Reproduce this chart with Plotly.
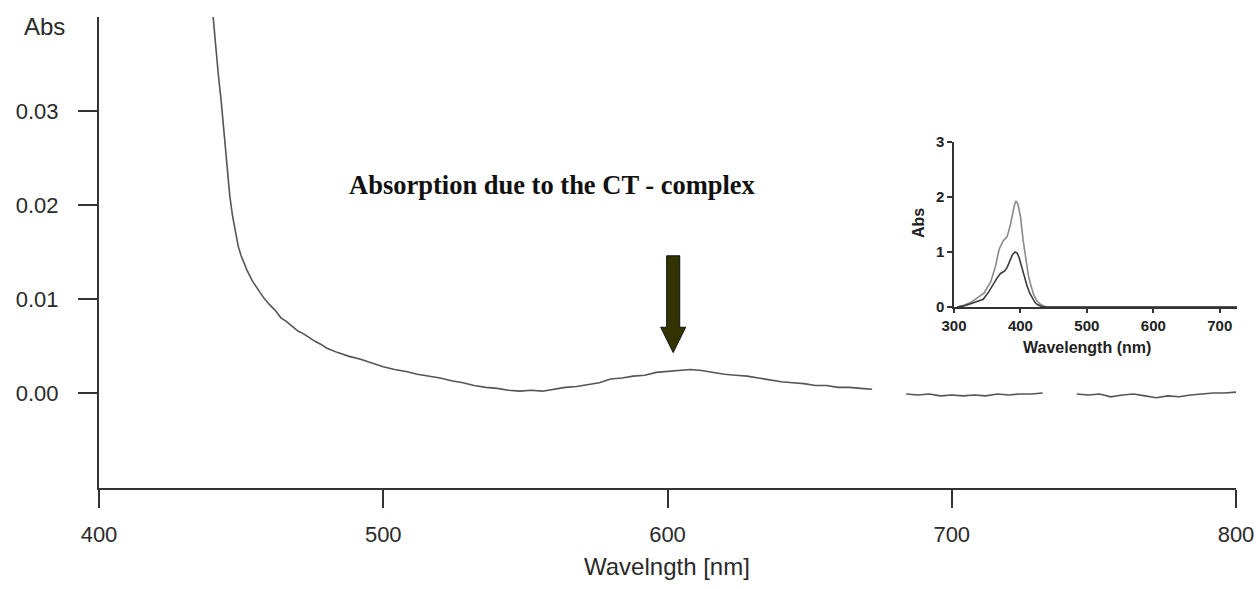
import plotly.graph_objects as go

# ---------------- main spectrum ----------------
wl = [440, 441, 442, 443, 444, 445, 446, 447, 448, 449, 450, 452, 454, 456, 458,
      460, 462, 464, 466, 468, 470, 472, 474, 476, 478, 480,
      484, 488, 492, 496, 500, 504, 508, 512, 516, 520, 524, 528, 532, 536,
      540, 544, 548, 552, 556, 560, 564, 568, 572, 576, 580, 584, 588, 592,
      596, 600, 604, 608, 612, 616, 620, 624, 628, 632, 636, 640, 644, 648,
      652, 656, 660, 664, 668, 672, 676, 680, 684, 688, 692, 696, 700, 704,
      708, 712, 716, 720, 724, 728, 732, 736, 740, 744, 748, 752, 756, 760,
      764, 768, 772, 776, 780, 784, 788, 792, 796, 800]
absorb = [0.0405, 0.0368, 0.0338, 0.0310, 0.0278, 0.0243, 0.0210, 0.0188, 0.0170, 0.0156,
          0.0146, 0.0131, 0.0119, 0.0110, 0.0101, 0.0094, 0.0088, 0.0080, 0.0076, 0.0071,
          0.0066, 0.0063, 0.0059, 0.0055, 0.0052, 0.0048,
          0.0043, 0.0039, 0.0036, 0.0032, 0.0028, 0.0025, 0.0023, 0.0020, 0.0018, 0.0016,
          0.0013, 0.0011, 0.0008, 0.0006, 0.0005, 0.0003, 0.0002, 0.0003, 0.0002, 0.0004,
          0.0006, 0.0007, 0.0009, 0.0011, 0.0015, 0.0016, 0.0018, 0.0019, 0.0022, 0.0023,
          0.0024, 0.0025, 0.0024, 0.0022, 0.0020, 0.0019, 0.0018, 0.0016, 0.0014, 0.0012,
          0.0011, 0.0010, 0.0008, 0.0008, 0.0006, 0.0006, 0.0005, 0.0004, None, None,
          -0.0001, -0.0002, -0.0001, -0.0003, -0.0002, -0.0003, -0.0002, -0.0003, -0.0001,
          -0.0002, -0.0001, -0.0001, 0.0000, None, None, -0.0001, -0.0002, -0.0001, -0.0004,
          -0.0002, -0.0001, -0.0003, -0.0005, -0.0003, -0.0004, -0.0002, -0.0001, 0.0000,
          0.0000, 0.0001]

main_xticks = [400, 500, 600, 700, 800]
main_yticks = [0.00, 0.01, 0.02, 0.03]
main_yticktext = ["0.00", "0.01", "0.02", "0.03"]

# ---------------- inset spectra ----------------
inset_x1 = [305, 315, 325, 335, 345, 355, 362, 368, 374, 380, 385, 390, 393, 396, 400,
            404, 408, 412, 416, 420, 425, 430, 435, 440, 726]
inset_y1 = [0.0, 0.03, 0.08, 0.16, 0.25, 0.45, 0.72, 1.05, 1.2, 1.28, 1.5, 1.8, 1.93, 1.88,
            1.65, 1.22, 0.85, 0.57, 0.38, 0.22, 0.11, 0.05, 0.02, 0.0, 0.0]
inset_x2 = [305, 315, 325, 335, 344, 352, 359, 365, 370, 376, 380, 384, 388, 392, 395,
            398, 402, 406, 410, 414, 418, 422, 426, 432, 440, 726]
inset_y2 = [0.0, 0.02, 0.06, 0.1, 0.14, 0.27, 0.42, 0.53, 0.61, 0.65, 0.72, 0.85, 0.95,
            1.0, 0.98, 0.9, 0.72, 0.55, 0.38, 0.25, 0.15, 0.08, 0.04, 0.01, 0.0, 0.0]
inset_xticks = [300, 400, 500, 600, 700]
inset_yticks = [0, 1, 2, 3]

# arrow marker (annotation geometry, in data units)
ARROW_X = 602
ARROW_TOP = 0.0146
ARROW_NECK = 0.0070
ARROW_TIP = 0.0043
SHAFT_HW = 2.3
HEAD_HW = 4.4

AXC = "#333333"
TICKFONT = dict(family="Liberation Sans, Arial, sans-serif", size=22, color="#2a2a2a")
INSET_TICKFONT = dict(family="Liberation Sans, Arial, sans-serif", size=15,
                      color="#222222", weight="bold")

fig = go.Figure()
fig.add_trace(go.Scatter(x=wl, y=absorb, mode="lines", xaxis="x", yaxis="y",
                         line=dict(color="#555555", width=1.6), connectgaps=False,
                         showlegend=False, hoverinfo="skip"))
fig.add_trace(go.Scatter(x=inset_x1, y=inset_y1, mode="lines", xaxis="x2", yaxis="y2",
                         line=dict(color="#8a8a8a", width=1.6), showlegend=False,
                         hoverinfo="skip", cliponaxis=False))
fig.add_trace(go.Scatter(x=inset_x2, y=inset_y2, mode="lines", xaxis="x2", yaxis="y2",
                         line=dict(color="#3a3a3a", width=1.6), showlegend=False,
                         hoverinfo="skip", cliponaxis=False))

ax = ARROW_X
path = (f"M {ax-SHAFT_HW},{ARROW_TOP} L {ax+SHAFT_HW},{ARROW_TOP} "
        f"L {ax+SHAFT_HW},{ARROW_NECK} L {ax+HEAD_HW},{ARROW_NECK} "
        f"L {ax},{ARROW_TIP} L {ax-HEAD_HW},{ARROW_NECK} "
        f"L {ax-SHAFT_HW},{ARROW_NECK} Z")
fig.add_shape(type="path", path=path, xref="x", yref="y",
              fillcolor="#333300", line=dict(color="#111111", width=1))

fig.update_layout(
    width=1256, height=589,
    margin=dict(l=0, r=0, t=0, b=0, autoexpand=False),
    paper_bgcolor="white", plot_bgcolor="white",
    xaxis=dict(domain=[99/1256, 1236/1256], range=[400, 800], anchor="y",
               automargin=False,
               showline=True, linecolor=AXC, linewidth=2, mirror=False,
               ticks="outside", ticklen=18, tickwidth=2, tickcolor=AXC,
               tickvals=main_xticks, ticktext=[str(v) for v in main_xticks],
               tickfont=TICKFONT, ticklabelstandoff=8,
               showgrid=False, zeroline=False),
    yaxis=dict(domain=[1-488/589, 1-17/589], range=[-0.0101, 0.0400], anchor="x",
               automargin=False,
               showline=True, linecolor=AXC, linewidth=2,
               ticks="outside", ticklen=19, tickwidth=2, tickcolor=AXC,
               tickvals=main_yticks, ticktext=main_yticktext,
               tickfont=TICKFONT, ticklabelstandoff=15,
               showgrid=False, zeroline=False),
    xaxis2=dict(domain=[954/1256, 1237/1256], range=[300, 726], anchor="y2",
                automargin=False,
                showline=True, linecolor=AXC, linewidth=1.5,
                ticks="outside", ticklen=4, tickwidth=1.5, tickcolor=AXC,
                tickvals=inset_xticks, tickfont=INSET_TICKFONT,
                showgrid=False, zeroline=False),
    yaxis2=dict(domain=[1-307/589, 1-142/589], range=[0, 3], anchor="x2",
                automargin=False,
                showline=True, linecolor=AXC, linewidth=1.5,
                ticks="outside", ticklen=5, tickwidth=1.5, tickcolor=AXC,
                tickvals=inset_yticks, tickfont=INSET_TICKFONT,
                showgrid=False, zeroline=False),
)

ann_font = dict(family="Liberation Sans, Arial, sans-serif", size=24, color="#2a2a2a")
fig.add_annotation(text="Abs", x=44/1256, y=1-27/589, xref="paper", yref="paper",
                   showarrow=False, font=ann_font, xanchor="center", yanchor="middle")
fig.add_annotation(text="Wavelngth [nm]", x=667/1256, y=1-566/589, xref="paper", yref="paper",
                   showarrow=False, font=ann_font, xanchor="center", yanchor="middle")
fig.add_annotation(text="<b>Absorption due to the CT - complex</b>", x=552/1256, y=1-185/589,
                   xref="paper", yref="paper", showarrow=False,
                   font=dict(family="Liberation Serif, Times New Roman, serif", size=26.5,
                             color="#111111"),
                   xanchor="center", yanchor="middle")
inset_font = dict(family="Liberation Sans, Arial, sans-serif", size=16, color="#222222",
                  weight="bold")
fig.add_annotation(text="Abs", x=918/1256, y=1-223/589, xref="paper", yref="paper",
                   showarrow=False, font=inset_font, textangle=-90,
                   xanchor="center", yanchor="middle")
fig.add_annotation(text="Wavelength (nm)", x=1087/1256, y=1-347/589, xref="paper", yref="paper",
                   showarrow=False, font=inset_font, xanchor="center", yanchor="middle")

fig.write_html("out.html")
